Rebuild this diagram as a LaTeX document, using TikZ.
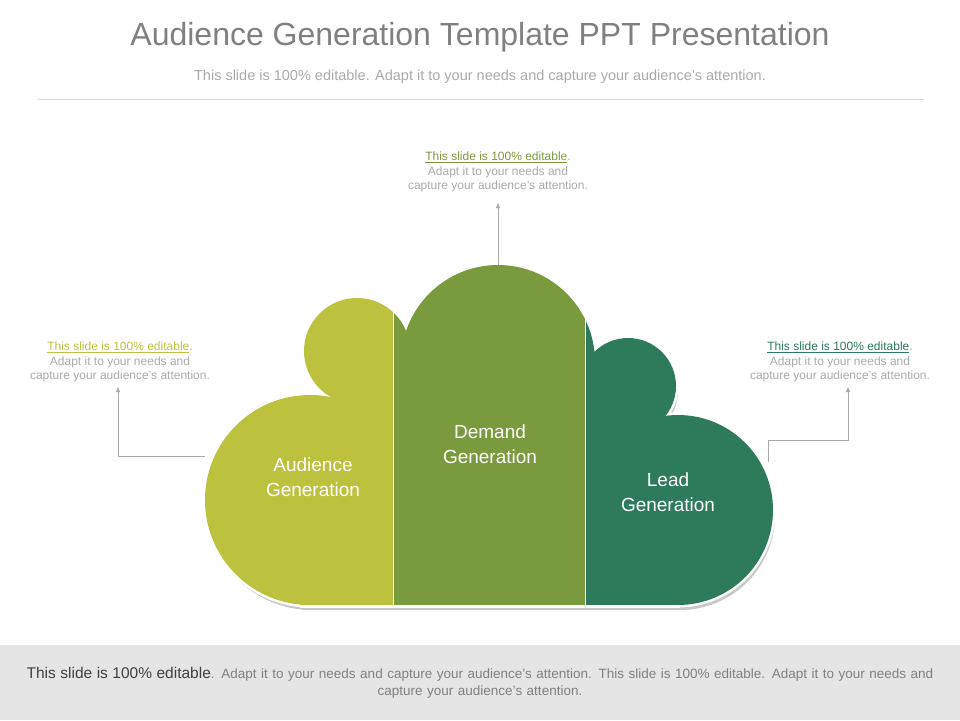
\documentclass[tikz,border=0pt]{standalone}
\usepackage{fontspec}
\setmainfont{Liberation Sans}
\usetikzlibrary{arrows.meta}
\definecolor{cA}{HTML}{BDC23E}
\definecolor{cB}{HTML}{7A9A3E}
\definecolor{cC}{HTML}{2E7B5B}
\definecolor{gt}{HTML}{808080}
\definecolor{gl}{HTML}{AAAAAA}
\tikzset{x=1pt,y=-1pt,
 cl/.style={gl,line width=0.8pt,-{Triangle[length=5pt,width=4pt]}},
 lab/.style={text=white,font=\fontsize{19}{25}\selectfont,align=center},
 call/.style={align=center,text=gl,font=\fontsize{12}{14.5}\selectfont}}
\newcommand{\cloudfill}[2][0]{%
\fill[#2] (310,500) circle ({105+#1});
\fill[#2] (357,351) circle ({53+#1});
\fill[#2] (498,362) circle ({97+#1});
\fill[#2] (628,386) circle ({48+#1});
\fill[#2] (678,510) circle ({95+#1});
\fill[#2] (300,{440-#1}) rectangle (680,{605+#1});
\fill[#2] (350,370) rectangle (650,{605+#1});}
\begin{document}
\begin{tikzpicture}
\useasboundingbox (0,0) rectangle (960,720);
\fill[white] (0,0) rectangle (960,720);
\node[text=gt,font=\fontsize{32}{38}\selectfont] (t) at (480,37) {Audience Generation Template PPT Presentation};
\node[text=gl,font=\fontsize{14.5}{17}\selectfont] (st) at (480,77) {This slide is 100\% editable. Adapt it to your needs and capture your audience’s attention.};
\draw[gray!30] (38,99) -- (924,99);
\fill[gray!20] (0,645) rectangle (960,720);
\node[align=center,text=gt,font=\fontsize{13.5}{17}\selectfont,text width=930pt] (ft) at (480,683) {{\fontsize{15.5}{17}\selectfont\color{black!75}This slide is 100\% editable}. Adapt it to your needs and capture your audience's attention. This slide is 100\% editable. Adapt it to your needs and capture your audience's attention.};
\begin{scope}[shift={(2,5)}]
\cloudfill{black!22}
\end{scope}
\cloudfill[2.5]{white}
\begin{scope}
\clip (150,250) rectangle (393,620);
\cloudfill{cA}
\end{scope}
\begin{scope}
\clip (393,250) rectangle (585,620);
\cloudfill{cB}
\end{scope}
\begin{scope}
\clip (585,250) rectangle (800,620);
\cloudfill{cC}
\end{scope}
\draw[white,line width=1pt] (393,300) -- (393,606) (585,300) -- (585,606);
\node[lab] (a) at (313,477) {Audience\\Generation};
\node[lab] (b) at (490,444) {Demand\\Generation};
\node[lab] (c) at (668,492) {Lead\\Generation};
\coordinate (top) at (498,265);
\coordinate (lft) at (205,456);
\coordinate (rgt) at (768,462);
\node[call] (n1) at (498,172) {{\color{cB}\underline{This slide is 100\% editable}}.\\Adapt it to your needs and\\capture your audience’s attention.};
\node[call] (n2) at (120,362) {{\color{cA}\underline{This slide is 100\% editable}}.\\Adapt it to your needs and\\capture your audience’s attention.};
\node[call] (n3) at (840,362) {{\color{cC}\underline{This slide is 100\% editable}}.\\Adapt it to your needs and\\capture your audience’s attention.};
\draw[cl] (top) -- (498,203);
\draw[cl] (lft) -- (118,456) -- (118,387);
\draw[cl] (rgt) -- (768,440) -- (848,440) -- (848,387);
\end{tikzpicture}
\end{document}
